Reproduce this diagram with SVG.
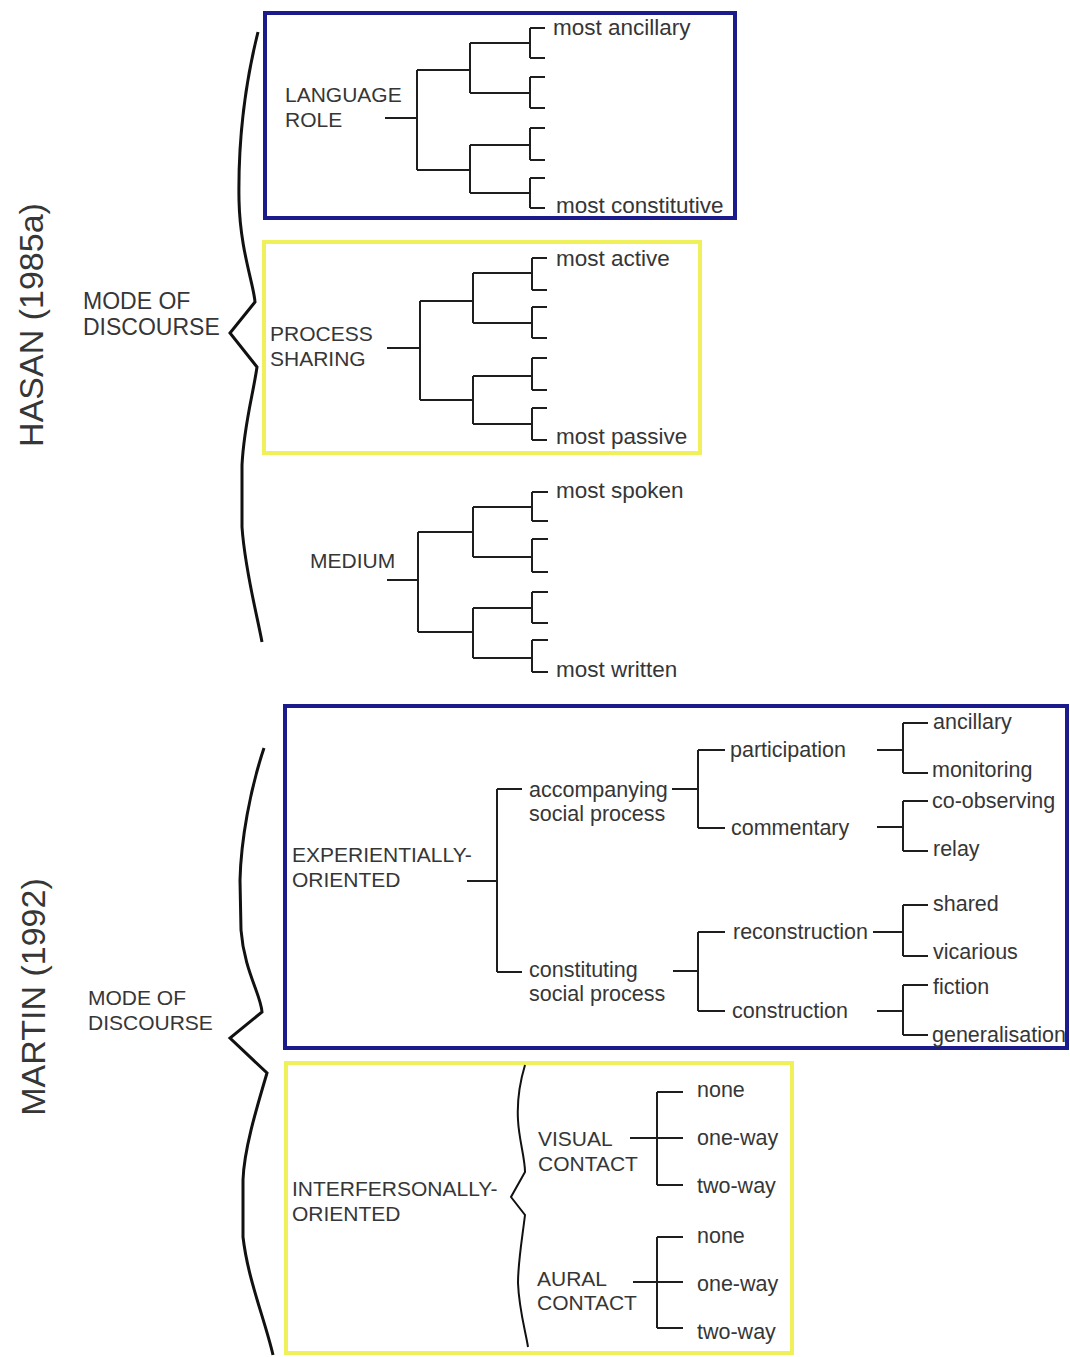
<svg xmlns="http://www.w3.org/2000/svg" width="1070" height="1357" viewBox="0 0 1070 1357">
<style>
text{font-family:"Liberation Sans",Arial,sans-serif;fill:#363636}
.cap{font-size:21px}
.cap2{font-size:23px}
.lo{font-size:22.5px}
.lo2{font-size:21.5px}
.side{font-size:34px}
.ln{fill:none;stroke:#1e1e1e;stroke-width:2}
.brace{fill:none;stroke:#111;stroke-width:3;stroke-linejoin:miter}
.brace2{fill:none;stroke:#111;stroke-width:2}
.blue{fill:#fff;stroke:#1b1b8c;stroke-width:4}
.yellow{fill:#fff;stroke:#f0f05a;stroke-width:4}
</style>
<rect width="1070" height="1357" fill="#fff"/>

<g id="boxes">
<rect id="box-language-role" class="blue" x="265" y="13" width="470" height="205"/>
<rect id="box-process-sharing" class="yellow" x="264" y="242" width="436" height="211"/>
<rect id="box-experiential" class="blue" x="285" y="706" width="782" height="342"/>
<rect id="box-interpersonal" class="yellow" x="286" y="1063" width="506" height="290"/>
</g>

<g id="connectors">
<path class="brace" d="M258,32 C246,80 238,140 239,200 C240,250 254,285 255,302 L230,333 L257,367 C253,395 244,425 242,465 L242,527 C245,570 256,610 262,642"/>
<path class="ln" d="M385,118H417 M417,70V170 M417,70H470 M417,170H470 M470,43V93 M470,145V193 M470,43H530 M470,93H530 M470,145H530 M470,193H530 M530,28V58 M530,77V108 M530,128V160 M530,178V208 M530,28H545 M530,58H545 M530,77H545 M530,108H545 M530,128H545 M530,160H545 M530,178H545 M530,208H545"/>
<path class="ln" d="M387,348H420 M420,301V400 M420,301H473 M420,400H473 M473,273V323 M473,376V424 M473,273H532 M473,323H532 M473,376H532 M473,424H532 M532,258V290 M532,307V338 M532,358V390 M532,408V440 M532,258H547 M532,290H547 M532,307H547 M532,338H547 M532,358H547 M532,390H547 M532,408H547 M532,440H547"/>
<path class="ln" d="M387,580H418 M418,532V632 M418,532H473 M418,632H473 M473,507V557 M473,608V658 M473,507H532 M473,557H532 M473,608H532 M473,658H532 M532,492V521 M532,539V572 M532,592V623 M532,640V672 M532,492H548 M532,521H548 M532,539H548 M532,572H548 M532,592H548 M532,623H548 M532,640H548 M532,672H548"/>
<path class="brace" d="M264,748 C250,790 241,840 240,880 L241,930 C244,970 261,995 262,1012 L230,1038 L267,1073 C256,1110 244,1150 243,1180 L243,1237 C248,1280 265,1320 273,1355"/>
<path class="ln" d="M467,881H497 M497,789V972 M497,789H522 M497,972H522 M672,789H698 M698,750V828 M698,750H725 M698,828H725 M673,971H698 M698,932V1011 M698,932H725 M698,1011H725 M877,750H903 M903,723V773 M903,723H928 M903,773H928 M877,827H903 M903,801V851 M903,801H928 M903,851H928 M873,932H903 M903,905V956 M903,905H928 M903,956H928 M877,1011H903 M903,985V1035 M903,985H928 M903,1035H928"/>
<path class="brace2" d="M525,1065 C519,1085 517,1103 518,1120 C519,1140 525,1158 525,1172 L511,1197 L525,1215 C522,1240 518,1262 518,1283 C519,1310 526,1333 528,1347"/>
<path class="ln" d="M630,1138H683 M657,1092V1185 M657,1092H683 M657,1185H683 M633,1282H683 M657,1237V1328 M657,1237H683 M657,1328H683"/>
</g>

<g id="hasan-label"><text class="side" transform="translate(43,325) rotate(-90)" text-anchor="middle">HASAN (1985a)</text></g>
<g id="hasan-mode"><text class="cap2" x="83" y="309">MODE OF</text><text class="cap2" x="83" y="335">DISCOURSE</text></g>
<g id="language-role"><text class="cap" x="285" y="102">LANGUAGE</text><text class="cap" x="285" y="127">ROLE</text></g>
<g id="most-ancillary"><text class="lo" x="553" y="35">most ancillary</text></g>
<g id="most-constitutive"><text class="lo" x="556" y="213">most constitutive</text></g>
<g id="process-sharing"><text class="cap" x="270" y="341">PROCESS</text><text class="cap" x="270" y="366">SHARING</text></g>
<g id="most-active"><text class="lo" x="556" y="266">most active</text></g>
<g id="most-passive"><text class="lo" x="556" y="444">most passive</text></g>
<g id="medium"><text class="cap" x="310" y="568">MEDIUM</text></g>
<g id="most-spoken"><text class="lo" x="556" y="498">most spoken</text></g>
<g id="most-written"><text class="lo" x="556" y="677">most written</text></g>

<g id="martin-label"><text class="side" transform="translate(45,997) rotate(-90)" text-anchor="middle">MARTIN (1992)</text></g>
<g id="martin-mode"><text class="cap" x="88" y="1005">MODE OF</text><text class="cap" x="88" y="1030">DISCOURSE</text></g>
<g id="experiential"><text class="cap" x="292" y="862">EXPERIENTIALLY-</text><text class="cap" x="292" y="887">ORIENTED</text></g>
<g id="accompanying"><text class="lo2" x="529" y="797">accompanying</text><text class="lo2" x="529" y="821">social process</text></g>
<g id="constituting"><text class="lo2" x="529" y="977">constituting</text><text class="lo2" x="529" y="1001">social process</text></g>
<g id="participation"><text class="lo2" x="730" y="757">participation</text></g>
<g id="commentary"><text class="lo2" x="731" y="835">commentary</text></g>
<g id="reconstruction"><text class="lo2" x="733" y="939">reconstruction</text></g>
<g id="construction"><text class="lo2" x="732" y="1018">construction</text></g>
<g id="ancillary"><text class="lo2" x="933" y="729">ancillary</text></g>
<g id="monitoring"><text class="lo2" x="932" y="777">monitoring</text></g>
<g id="co-observing"><text class="lo2" x="932" y="808">co-observing</text></g>
<g id="relay"><text class="lo2" x="933" y="856">relay</text></g>
<g id="shared"><text class="lo2" x="933" y="911">shared</text></g>
<g id="vicarious"><text class="lo2" x="933" y="959">vicarious</text></g>
<g id="fiction"><text class="lo2" x="933" y="994">fiction</text></g>
<g id="generalisation"><text class="lo2" x="932" y="1042">generalisation</text></g>
<g id="interpersonal"><text class="cap" x="292" y="1196">INTERFERSONALLY-</text><text class="cap" x="292" y="1221">ORIENTED</text></g>
<g id="visual-contact"><text class="cap" x="538" y="1146">VISUAL</text><text class="cap" x="538" y="1171">CONTACT</text></g>
<g id="visual-none"><text class="lo2" x="697" y="1097">none</text></g>
<g id="visual-one-way"><text class="lo2" x="697" y="1145">one-way</text></g>
<g id="visual-two-way"><text class="lo2" x="697" y="1193">two-way</text></g>
<g id="aural-contact"><text class="cap" x="537" y="1286">AURAL</text><text class="cap" x="537" y="1310">CONTACT</text></g>
<g id="aural-none"><text class="lo2" x="697" y="1243">none</text></g>
<g id="aural-one-way"><text class="lo2" x="697" y="1291">one-way</text></g>
<g id="aural-two-way"><text class="lo2" x="697" y="1339">two-way</text></g>
</svg>
